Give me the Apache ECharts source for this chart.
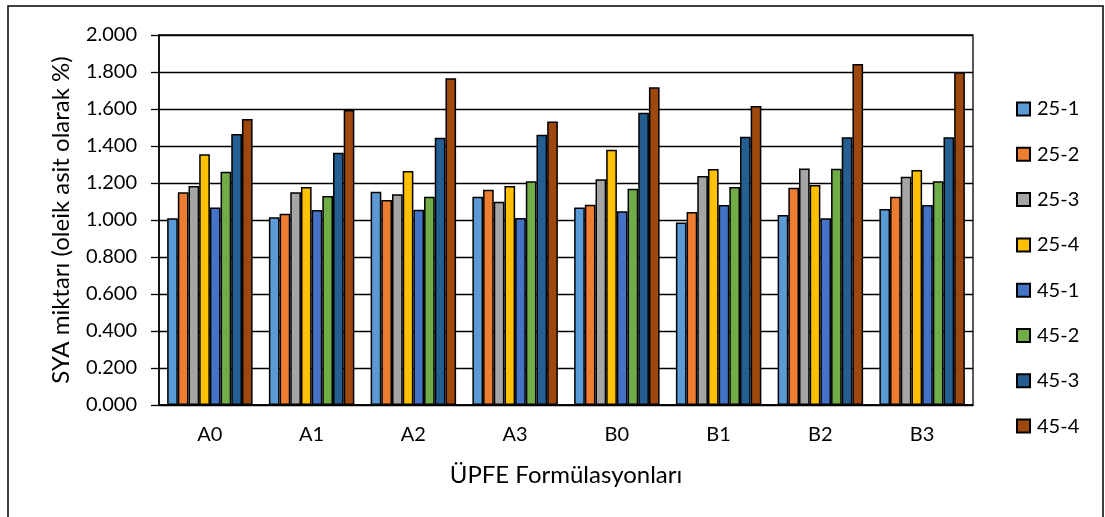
<!DOCTYPE html>
<html>
<head>
<meta charset="utf-8">
<script src="https://cdn.jsdelivr.net/npm/echarts@6/dist/echarts.min.js"></script>
<style>
  html, body { margin: 0; padding: 0; background: #fff; }
  #chart { width: 1105px; height: 517px; }
</style>
</head>
<body>
<div id="chart"></div>
<script>
// Formulation groups along the x axis
const categories = ['A0', 'A1', 'A2', 'A3', 'B0', 'B1', 'B2', 'B3'];

// Free fatty acid values (% oleic acid) per storage condition
const s25_1 = [1.009, 1.015, 1.153, 1.126, 1.067, 0.986, 1.027, 1.059];
const s25_2 = [1.150, 1.034, 1.108, 1.164, 1.083, 1.043, 1.175, 1.126];
const s25_3 = [1.184, 1.150, 1.139, 1.099, 1.220, 1.238, 1.279, 1.234];
const s25_4 = [1.355, 1.178, 1.265, 1.184, 1.380, 1.276, 1.189, 1.270];
const s45_1 = [1.067, 1.054, 1.056, 1.011, 1.047, 1.081, 1.009, 1.081];
const s45_2 = [1.261, 1.130, 1.126, 1.209, 1.169, 1.178, 1.277, 1.209];
const s45_3 = [1.465, 1.364, 1.445, 1.461, 1.580, 1.450, 1.447, 1.447];
const s45_4 = [1.546, 1.595, 1.766, 1.533, 1.717, 1.616, 1.843, 1.798];

const seriesNames = ['25-1', '25-2', '25-3', '25-4', '45-1', '45-2', '45-3', '45-4'];
const seriesData = [s25_1, s25_2, s25_3, s25_4, s45_1, s45_2, s45_3, s45_4];
const seriesColors = ['#5B9BD5', '#ED7D31', '#A5A5A5', '#FFC000', '#4472C4', '#70AD47', '#255E91', '#9E480E'];

const FONT = 'Lato';

const chart = echarts.init(document.getElementById('chart'), null, { renderer: 'canvas' });

chart.setOption({
  animation: false,
  backgroundColor: '#fff',
  textStyle: { fontFamily: FONT, color: '#000' },
  graphic: [{
    type: 'rect',
    shape: { x: 8, y: 6, width: 1095, height: 530 },
    style: { fill: 'none', stroke: '#000', lineWidth: 1.5 },
    silent: true
  }],
  grid: {
    left: 159, right: 132, top: 35, bottom: 112,
    show: true, borderColor: '#000', borderWidth: 1.3, backgroundColor: 'transparent'
  },
  legend: {
    orient: 'vertical',
    left: 1011,
    top: 94,
    itemWidth: 13,
    itemHeight: 13,
    itemGap: 25.3,
    icon: 'rect',
    textStyle: { fontFamily: FONT, fontSize: 20, color: '#000', padding: [0, 0, 0, 2] },
    data: seriesNames
  },
  xAxis: {
    type: 'category',
    data: categories,
    axisLine: { lineStyle: { color: '#000', width: 1.5 } },
    axisTick: { show: false },
    axisLabel: { fontFamily: FONT, fontSize: 20, color: '#000', margin: 20 },
    name: 'ÜPFE Formülasyonları',
    nameLocation: 'middle',
    nameGap: 58,
    nameTextStyle: { fontFamily: FONT, fontSize: 24, color: '#000' }
  },
  yAxis: {
    type: 'value',
    min: 0, max: 2, interval: 0.2,
    axisLine: { show: true, lineStyle: { color: '#000', width: 1.5 } },
    axisTick: { show: true, inside: false, length: 8, lineStyle: { color: '#000', width: 1.3 } },
    axisLabel: {
      fontFamily: FONT, fontSize: 20, color: '#000', margin: 22,
      formatter: v => v.toFixed(3)
    },
    splitLine: { show: true, lineStyle: { color: '#000', width: 1.3 } },
    name: 'SYA miktarı (oleik asit olarak %)',
    nameLocation: 'middle',
    nameGap: 86,
    nameTextStyle: { fontFamily: FONT, fontSize: 24, color: '#000' }
  },
  series: seriesNames.map((name, i) => ({
    name,
    type: 'bar',
    data: seriesData[i],
    barGap: '0%',
    barCategoryGap: '16%',
    itemStyle: { color: seriesColors[i], borderColor: '#000', borderWidth: 1.5 }
  }))
});
</script>
</body>
</html>
